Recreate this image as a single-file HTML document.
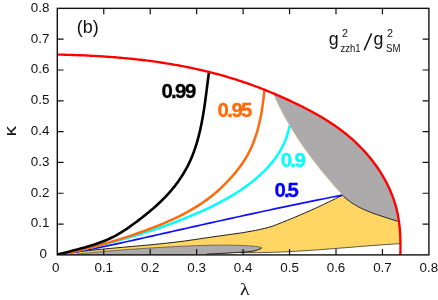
<!DOCTYPE html>
<html><head><meta charset="utf-8"><style>
html,body{margin:0;padding:0;background:#fff;}
svg{display:block;}
text{font-family:"Liberation Sans",sans-serif;}
</style></head><body>
<svg width="438" height="300" viewBox="0 0 438 300" style="will-change:transform">
<defs><filter id="ga" filterUnits="userSpaceOnUse" x="0" y="0" width="438" height="300" color-interpolation-filters="sRGB"><feColorMatrix type="identity"/></filter><clipPath id="cp"><rect x="57.3" y="8.35" width="371.60" height="246.55"/></clipPath></defs>
<rect width="438" height="300" fill="#fff"/>
<g clip-path="url(#cp)">
<path d="M57.30 254.86 L61.69 254.17 L66.08 253.50 L70.48 252.88 L74.88 252.29 L79.29 251.73 L83.70 251.19 L88.11 250.68 L92.52 250.20 L96.94 249.73 L101.36 249.29 L105.78 248.85 L110.20 248.44 L114.63 248.03 L119.05 247.63 L123.47 247.23 L127.90 246.84 L132.32 246.45 L136.75 246.06 L141.17 245.66 L145.59 245.26 L150.02 244.85 L154.44 244.42 L158.86 243.98 L163.27 243.53 L167.69 243.05 L172.10 242.56 L176.51 242.04 L180.91 241.49 L185.32 240.92 L189.71 240.31 L194.11 239.67 L198.50 239.01 L202.89 238.34 L207.29 237.68 L211.69 237.04 L216.09 236.42 L220.49 235.82 L224.89 235.22 L229.29 234.62 L233.69 234.00 L238.08 233.37 L242.47 232.69 L246.85 231.98 L251.21 231.21 L255.56 230.38 L259.90 229.47 L264.22 228.47 L268.52 227.36 L272.80 226.14 L275.25 225.13 L277.70 224.18 L280.15 223.22 L282.60 222.25 L285.04 221.27 L287.48 220.28 L289.92 219.29 L292.35 218.28 L294.78 217.27 L297.20 216.24 L299.62 215.21 L302.04 214.17 L304.45 213.12 L306.86 212.06 L309.27 210.99 L311.67 209.92 L314.06 208.83 L316.46 207.74 L318.85 206.63 L321.23 205.52 L323.61 204.40 L325.99 203.27 L328.36 202.13 L330.73 200.98 L333.09 199.83 L335.45 198.66 L337.81 197.49 L340.16 196.30 L342.51 195.11 L342.45 195.15 L343.79 196.48 L345.17 197.75 L346.59 198.98 L348.04 200.15 L349.54 201.28 L351.06 202.37 L352.62 203.41 L354.20 204.41 L355.81 205.37 L357.45 206.29 L359.10 207.18 L360.78 208.03 L362.48 208.85 L364.19 209.64 L365.92 210.39 L367.66 211.12 L369.40 211.83 L371.16 212.51 L372.92 213.17 L374.69 213.80 L376.45 214.42 L378.22 215.02 L379.98 215.61 L397.60 221.30 L397.60 221.30 L399.20 223.42 L399.42 225.26 L399.61 227.10 L399.78 228.95 L399.93 230.80 L400.06 232.66 L400.17 234.51 L400.26 236.37 L400.34 238.23 L400.39 240.09 L400.43 241.95 L399.90 243.63 L399.90 243.63 L396.64 243.84 L393.38 244.05 L390.12 244.27 L386.86 244.49 L383.59 244.72 L380.33 244.96 L377.07 245.20 L373.81 245.45 L370.55 245.70 L367.29 245.95 L364.03 246.21 L360.77 246.46 L357.51 246.72 L354.25 246.99 L350.99 247.25 L347.73 247.51 L344.47 247.77 L341.21 248.03 L337.95 248.29 L334.69 248.55 L331.43 248.80 L328.17 249.06 L324.91 249.30 L321.65 249.55 L318.39 249.79 L315.13 250.02 L311.86 250.25 L308.60 250.47 L305.34 250.68 L302.08 250.89 L298.81 251.09 L295.55 251.28 L292.29 251.46 L289.02 251.63 L285.76 251.79 L282.49 251.94 L279.23 252.08 L275.96 252.20 L272.69 252.32 L269.43 252.42 L266.16 252.50 L262.89 252.58 L259.62 252.64 L256.35 252.68 L253.08 252.71 L249.81 252.72 L246.54 252.71 L243.27 252.69 L240.00 252.65 L190 254.9 Z" fill="#ffd664" stroke="none"/>
<path d="M57.30 254.86 L61.69 254.17 L66.08 253.50 L70.48 252.88 L74.88 252.29 L79.29 251.73 L83.70 251.19 L88.11 250.68 L92.52 250.20 L96.94 249.73 L101.36 249.29 L105.78 248.85 L110.20 248.44 L114.63 248.03 L119.05 247.63 L123.47 247.23 L127.90 246.84 L132.32 246.45 L136.75 246.06 L141.17 245.66 L145.59 245.26 L150.02 244.85 L154.44 244.42 L158.86 243.98 L163.27 243.53 L167.69 243.05 L172.10 242.56 L176.51 242.04 L180.91 241.49 L185.32 240.92 L189.71 240.31 L194.11 239.67 L198.50 239.01 L202.89 238.34 L207.29 237.68 L211.69 237.04 L216.09 236.42 L220.49 235.82 L224.89 235.22 L229.29 234.62 L233.69 234.00 L238.08 233.37 L242.47 232.69 L246.85 231.98 L251.21 231.21 L255.56 230.38 L259.90 229.47 L264.22 228.47 L268.52 227.36 L272.80 226.14 L275.25 225.13 L277.70 224.18 L280.15 223.22 L282.60 222.25 L285.04 221.27 L287.48 220.28 L289.92 219.29 L292.35 218.28 L294.78 217.27 L297.20 216.24 L299.62 215.21 L302.04 214.17 L304.45 213.12 L306.86 212.06 L309.27 210.99 L311.67 209.92 L314.06 208.83 L316.46 207.74 L318.85 206.63 L321.23 205.52 L323.61 204.40 L325.99 203.27 L328.36 202.13 L330.73 200.98 L333.09 199.83 L335.45 198.66 L337.81 197.49 L340.16 196.30 L342.51 195.11 " fill="none" stroke="#111" stroke-width="0.95"/>
<path d="M399.90 243.63 L396.64 243.84 L393.38 244.05 L390.12 244.27 L386.86 244.49 L383.59 244.72 L380.33 244.96 L377.07 245.20 L373.81 245.45 L370.55 245.70 L367.29 245.95 L364.03 246.21 L360.77 246.46 L357.51 246.72 L354.25 246.99 L350.99 247.25 L347.73 247.51 L344.47 247.77 L341.21 248.03 L337.95 248.29 L334.69 248.55 L331.43 248.80 L328.17 249.06 L324.91 249.30 L321.65 249.55 L318.39 249.79 L315.13 250.02 L311.86 250.25 L308.60 250.47 L305.34 250.68 L302.08 250.89 L298.81 251.09 L295.55 251.28 L292.29 251.46 L289.02 251.63 L285.76 251.79 L282.49 251.94 L279.23 252.08 L275.96 252.20 L272.69 252.32 L269.43 252.42 L266.16 252.50 L262.89 252.58 L259.62 252.64 L256.35 252.68 L253.08 252.71 L249.81 252.72 L246.54 252.71 L243.27 252.69 L240.00 252.65 " fill="none" stroke="#151515" stroke-width="0.7"/>
<path d="M70.00 254.95 L73.24 254.57 L76.48 254.20 L79.72 253.84 L82.96 253.48 L86.20 253.14 L89.44 252.81 L92.68 252.48 L95.93 252.17 L99.17 251.86 L102.41 251.57 L105.65 251.28 L108.90 250.99 L112.14 250.72 L115.39 250.45 L118.63 250.19 L121.88 249.94 L125.13 249.70 L128.37 249.46 L131.62 249.22 L134.87 249.00 L138.12 248.78 L141.37 248.56 L144.62 248.35 L147.87 248.15 L151.12 247.95 L154.37 247.75 L157.62 247.56 L160.88 247.37 L164.13 247.19 L167.38 247.01 L170.64 246.83 L173.90 246.66 L177.15 246.49 L180.41 246.33 L183.67 246.17 L186.92 246.02 L190.18 245.88 L193.44 245.75 L196.70 245.63 L199.96 245.51 L203.22 245.42 L206.48 245.33 L209.73 245.26 L212.99 245.20 L216.25 245.16 L219.51 245.13 L222.76 245.13 L226.02 245.14 L229.28 245.17 L232.53 245.22 L235.79 245.29 L239.04 245.39 L242.29 245.51 L245.54 245.65 L248.79 245.83 L252.03 246.06 L255.25 246.38 L258.45 246.81 L261.62 247.38 L260.05 248.92 L258.38 249.66 L256.67 250.26 L254.91 250.74 L253.11 251.12 L251.29 251.40 L249.45 251.63 L247.59 251.80 L245.72 251.94 L243.86 252.07 L241.99 252.19 L240.12 252.32 L238.26 252.44 L236.40 252.56 L234.54 252.67 L232.68 252.78 L230.82 252.89 L228.96 253.00 L227.11 253.11 L225.25 253.21 L223.39 253.32 L221.54 253.42 L219.69 253.52 L217.83 253.61 L215.98 253.71 L214.13 253.80 L212.27 253.90 L210.42 253.99 L208.57 254.08 L206.71 254.17 L204.86 254.26 L203.00 254.34 L201.15 254.43 L199.29 254.52 L197.44 254.60 L195.58 254.69 L193.72 254.77 L191.86 254.86 L190.00 254.94 Z" fill="#acaaaa" stroke="none"/>
<path d="M70.00 254.95 L73.24 254.57 L76.48 254.20 L79.72 253.84 L82.96 253.48 L86.20 253.14 L89.44 252.81 L92.68 252.48 L95.93 252.17 L99.17 251.86 L102.41 251.57 L105.65 251.28 L108.90 250.99 L112.14 250.72 L115.39 250.45 L118.63 250.19 L121.88 249.94 L125.13 249.70 L128.37 249.46 L131.62 249.22 L134.87 249.00 L138.12 248.78 L141.37 248.56 L144.62 248.35 L147.87 248.15 L151.12 247.95 L154.37 247.75 L157.62 247.56 L160.88 247.37 L164.13 247.19 L167.38 247.01 L170.64 246.83 L173.90 246.66 L177.15 246.49 L180.41 246.33 L183.67 246.17 L186.92 246.02 L190.18 245.88 L193.44 245.75 L196.70 245.63 L199.96 245.51 L203.22 245.42 L206.48 245.33 L209.73 245.26 L212.99 245.20 L216.25 245.16 L219.51 245.13 L222.76 245.13 L226.02 245.14 L229.28 245.17 L232.53 245.22 L235.79 245.29 L239.04 245.39 L242.29 245.51 L245.54 245.65 L248.79 245.83 L252.03 246.06 L255.25 246.38 L258.45 246.81 L261.62 247.38 " fill="none" stroke="#333" stroke-width="0.6"/>
<path d="M261.67 248.02 L260.05 248.92 L258.38 249.66 L256.67 250.26 L254.91 250.74 L253.11 251.12 L251.29 251.40 L249.45 251.63 L247.59 251.80 L245.72 251.94 L243.86 252.07 L241.99 252.19 L240.12 252.32 L238.26 252.44 L236.40 252.56 L234.54 252.67 L232.68 252.78 L230.82 252.89 L228.96 253.00 L227.11 253.11 L225.25 253.21 L223.39 253.32 L221.54 253.42 L219.69 253.52 L217.83 253.61 L215.98 253.71 L214.13 253.80 L212.27 253.90 L210.42 253.99 L208.57 254.08 L206.71 254.17 " fill="none" stroke="#151515" stroke-width="1.0"/>
<path d="M272.81 92.89 L273.81 95.22 L274.84 97.54 L275.89 99.85 L276.96 102.15 L278.05 104.44 L279.17 106.72 L280.31 108.99 L281.46 111.24 L282.64 113.49 L283.84 115.72 L285.06 117.94 L286.29 120.16 L287.55 122.36 L288.82 124.55 L290.12 126.73 L291.43 128.90 L292.75 131.06 L294.10 133.21 L295.46 135.35 L296.84 137.48 L298.23 139.60 L299.65 141.71 L301.07 143.81 L302.51 145.90 L303.97 147.98 L305.44 150.05 L306.92 152.11 L308.42 154.16 L309.93 156.20 L311.46 158.24 L312.99 160.26 L314.54 162.27 L316.10 164.28 L317.68 166.27 L319.26 168.26 L320.85 170.24 L322.46 172.20 L324.07 174.16 L325.70 176.11 L327.33 178.06 L328.98 179.99 L330.63 181.92 L332.29 183.83 L333.96 185.74 L335.63 187.64 L337.31 189.53 L339.00 191.41 L340.70 193.29 L342.40 195.16 L342.45 195.15 L343.79 196.48 L345.17 197.75 L346.59 198.98 L348.04 200.15 L349.54 201.28 L351.06 202.37 L352.62 203.41 L354.20 204.41 L355.81 205.37 L357.45 206.29 L359.10 207.18 L360.78 208.03 L362.48 208.85 L364.19 209.64 L365.92 210.39 L367.66 211.12 L369.40 211.83 L371.16 212.51 L372.92 213.17 L374.69 213.80 L376.45 214.42 L378.22 215.02 L379.98 215.61 L397.60 221.30 L397.60 221.30 L398.69 219.75 L398.40 217.93 L398.08 216.11 L397.73 214.29 L397.35 212.49 L396.95 210.69 L396.51 208.90 L396.05 207.12 L395.55 205.35 L395.03 203.58 L394.48 201.82 L393.90 200.08 L393.30 198.34 L392.67 196.61 L392.01 194.89 L391.33 193.18 L390.62 191.48 L389.89 189.79 L389.13 188.10 L388.35 186.43 L387.54 184.77 L386.71 183.12 L385.86 181.48 L384.98 179.86 L384.08 178.24 L383.16 176.63 L382.21 175.04 L381.25 173.46 L380.26 171.89 L379.25 170.33 L378.22 168.78 L377.17 167.25 L376.10 165.73 L375.01 164.22 L373.91 162.73 L372.78 161.25 L371.63 159.78 L370.47 158.32 L369.29 156.88 L368.09 155.46 L366.88 154.04 L365.64 152.64 L364.40 151.26 L363.13 149.89 L361.85 148.54 L360.56 147.20 L359.25 145.87 L357.92 144.57 L356.58 143.27 L355.23 142.00 L353.87 140.74 L352.49 139.49 L351.10 138.26 L349.69 137.05 L348.28 135.86 L346.85 134.68 L345.41 133.52 L343.96 132.37 L342.50 131.24 L341.03 130.12 L339.54 129.02 L338.05 127.93 L336.55 126.86 L335.04 125.80 L333.52 124.76 L331.98 123.73 L330.44 122.71 L328.90 121.71 L327.34 120.71 L325.77 119.73 L324.20 118.77 L322.62 117.81 L321.03 116.87 L319.44 115.93 L317.84 115.01 L316.23 114.10 L314.61 113.19 L312.99 112.30 L311.36 111.42 L309.73 110.54 L308.09 109.68 L306.45 108.82 L304.80 107.97 L303.15 107.14 L301.50 106.30 L299.84 105.48 L298.17 104.66 L296.50 103.85 L294.83 103.05 L293.16 102.25 L291.48 101.46 L289.80 100.67 L288.12 99.90 L286.43 99.12 L284.75 98.36 L283.06 97.60 L281.36 96.85 L279.66 96.10 L277.97 95.36 L276.26 94.63 L274.56 93.90 L272.81 92.89 Z" fill="#acaaaa" stroke="none"/>
<path d="M272.81 92.89 L273.81 95.22 L274.84 97.54 L275.89 99.85 L276.96 102.15 L278.05 104.44 L279.17 106.72 L280.31 108.99 L281.46 111.24 L282.64 113.49 L283.84 115.72 L285.06 117.94 L286.29 120.16 L287.55 122.36 L288.82 124.55 L290.12 126.73 L291.43 128.90 L292.75 131.06 L294.10 133.21 L295.46 135.35 L296.84 137.48 L298.23 139.60 L299.65 141.71 L301.07 143.81 L302.51 145.90 L303.97 147.98 L305.44 150.05 L306.92 152.11 L308.42 154.16 L309.93 156.20 L311.46 158.24 L312.99 160.26 L314.54 162.27 L316.10 164.28 L317.68 166.27 L319.26 168.26 L320.85 170.24 L322.46 172.20 L324.07 174.16 L325.70 176.11 L327.33 178.06 L328.98 179.99 L330.63 181.92 L332.29 183.83 L333.96 185.74 L335.63 187.64 L337.31 189.53 L339.00 191.41 L340.70 193.29 L342.40 195.16 " fill="none" stroke="#e6dfb0" stroke-width="0.8"/>
<path d="M342.45 195.15 L343.79 196.48 L345.17 197.75 L346.59 198.98 L348.04 200.15 L349.54 201.28 L351.06 202.37 L352.62 203.41 L354.20 204.41 L355.81 205.37 L357.45 206.29 L359.10 207.18 L360.78 208.03 L362.48 208.85 L364.19 209.64 L365.92 210.39 L367.66 211.12 L369.40 211.83 L371.16 212.51 L372.92 213.17 L374.69 213.80 L376.45 214.42 L378.22 215.02 L379.98 215.61 L397.60 221.30 " fill="none" stroke="#111" stroke-width="0.9"/>
<path d="M57.38 255.19 L62.23 254.38 L67.09 253.55 L71.93 252.69 L76.78 251.81 L81.62 250.91 L86.46 249.99 L91.29 249.05 L96.13 248.09 L100.95 247.12 L105.78 246.12 L110.61 245.12 L115.43 244.10 L120.25 243.06 L125.07 242.02 L129.89 240.97 L134.70 239.91 L139.52 238.84 L144.33 237.76 L149.15 236.68 L153.96 235.59 L158.78 234.51 L163.59 233.42 L168.41 232.33 L173.22 231.24 L178.04 230.15 L182.86 229.07 L187.68 227.98 L192.50 226.90 L197.32 225.82 L202.14 224.75 L206.96 223.67 L211.78 222.60 L216.60 221.53 L221.43 220.46 L226.25 219.40 L231.08 218.34 L235.90 217.28 L240.73 216.22 L245.56 215.17 L250.39 214.12 L255.22 213.08 L260.05 212.04 L264.88 211.01 L269.71 209.97 L274.54 208.95 L279.38 207.93 L284.21 206.91 L289.05 205.90 L293.88 204.89 L298.72 203.89 L303.56 202.89 L308.40 201.90 L313.24 200.91 L318.08 199.93 L322.92 198.96 L327.76 197.99 L332.61 197.03 L337.45 196.07 L342.30 195.12 " fill="none" stroke="#1010ff" stroke-width="1.7"/>
<path d="M289.53 125.82 L289.06 128.23 L288.51 130.60 L287.89 132.92 L287.20 135.21 L286.44 137.46 L285.62 139.67 L284.73 141.84 L283.77 143.98 L282.76 146.08 L281.68 148.14 L280.56 150.17 L279.37 152.16 L278.14 154.12 L276.85 156.04 L275.51 157.93 L274.13 159.79 L272.71 161.61 L271.24 163.40 L269.74 165.16 L268.19 166.89 L266.61 168.58 L265.00 170.25 L263.36 171.89 L261.68 173.50 L259.98 175.08 L258.25 176.63 L256.50 178.15 L254.73 179.65 L252.93 181.12 L251.10 182.56 L249.26 183.98 L247.39 185.37 L245.51 186.74 L243.60 188.09 L241.67 189.41 L239.73 190.71 L237.77 191.99 L235.79 193.24 L233.80 194.48 L231.79 195.69 L229.76 196.88 L227.73 198.06 L225.67 199.21 L223.61 200.35 L221.54 201.47 L219.45 202.57 L217.36 203.65 L215.25 204.72 L213.14 205.77 L211.02 206.80 L208.89 207.82 L206.76 208.83 L204.62 209.82 L202.47 210.80 L200.32 211.77 L198.17 212.72 L196.02 213.66 L193.86 214.60 L191.70 215.51 L189.53 216.42 L187.37 217.32 L185.19 218.20 L183.02 219.08 L180.85 219.94 L178.67 220.79 L176.48 221.63 L174.30 222.46 L172.11 223.28 L169.92 224.09 L167.73 224.89 L165.53 225.69 L163.33 226.47 L161.13 227.24 L158.93 228.00 L156.72 228.75 L154.51 229.50 L152.30 230.24 L150.08 230.96 L147.87 231.68 L145.65 232.39 L143.42 233.09 L141.20 233.79 L138.97 234.47 L136.74 235.15 L134.51 235.82 L132.27 236.49 L130.04 237.14 L127.80 237.79 L125.56 238.43 L123.31 239.07 L121.06 239.70 L118.82 240.32 L116.56 240.94 L114.31 241.55 L112.05 242.15 L109.80 242.75 L107.54 243.34 L105.27 243.93 L103.01 244.51 L100.74 245.09 L98.47 245.66 L96.20 246.23 L93.93 246.79 L91.66 247.34 L89.38 247.90 L87.10 248.45 L84.82 248.99 L82.54 249.53 L80.25 250.07 L77.97 250.60 L75.68 251.13 L73.39 251.66 L71.10 252.18 L68.80 252.71 L66.51 253.22 L64.21 253.74 L61.91 254.25 L59.61 254.76 L57.31 255.27 " fill="none" stroke="#00ffff" stroke-width="2.5"/>
<path d="M264.38 89.96 L264.16 92.37 L263.91 94.79 L263.65 97.21 L263.37 99.63 L263.07 102.05 L262.74 104.47 L262.40 106.89 L262.03 109.30 L261.63 111.72 L261.21 114.13 L260.76 116.53 L260.27 118.92 L259.76 121.31 L259.21 123.69 L258.63 126.05 L258.02 128.40 L257.37 130.74 L256.67 133.07 L255.94 135.38 L255.17 137.67 L254.36 139.95 L253.50 142.21 L252.60 144.44 L251.65 146.66 L250.66 148.85 L249.61 151.01 L248.52 153.16 L247.37 155.27 L246.17 157.36 L244.92 159.42 L243.62 161.46 L242.28 163.47 L240.89 165.46 L239.46 167.42 L237.99 169.35 L236.48 171.26 L234.94 173.15 L233.36 175.01 L231.75 176.85 L230.12 178.67 L228.45 180.47 L226.76 182.24 L225.05 183.99 L223.30 185.71 L221.54 187.41 L219.74 189.08 L217.93 190.71 L216.09 192.32 L214.23 193.90 L212.34 195.44 L210.44 196.95 L208.51 198.43 L206.56 199.87 L204.60 201.28 L202.61 202.66 L200.61 204.01 L198.58 205.33 L196.54 206.62 L194.49 207.88 L192.41 209.12 L190.33 210.33 L188.22 211.52 L186.10 212.68 L183.97 213.81 L181.82 214.93 L179.67 216.02 L177.50 217.09 L175.31 218.13 L173.12 219.16 L170.92 220.17 L168.70 221.16 L166.48 222.14 L164.25 223.09 L162.01 224.03 L159.77 224.96 L157.51 225.87 L155.25 226.77 L152.99 227.65 L150.72 228.53 L148.44 229.39 L146.16 230.24 L143.88 231.08 L141.59 231.91 L139.30 232.73 L137.01 233.54 L134.71 234.33 L132.40 235.12 L130.10 235.90 L127.79 236.66 L125.48 237.42 L123.16 238.16 L120.84 238.90 L118.52 239.62 L116.19 240.34 L113.87 241.04 L111.53 241.73 L109.20 242.42 L106.86 243.09 L104.53 243.76 L102.18 244.41 L99.84 245.06 L97.50 245.69 L95.15 246.32 L92.80 246.93 L90.45 247.54 L88.09 248.14 L85.74 248.72 L83.38 249.30 L81.02 249.87 L78.66 250.43 L76.30 250.98 L73.94 251.52 L71.58 252.05 L69.21 252.58 L66.85 253.09 L64.48 253.60 L62.12 254.09 L59.75 254.58 L57.38 255.06 " fill="none" stroke="#ff6a0a" stroke-width="2.5"/>
<path d="M208.93 72.43 L208.65 74.52 L208.37 76.62 L208.10 78.73 L207.83 80.85 L207.56 82.98 L207.29 85.11 L207.02 87.26 L206.75 89.41 L206.47 91.57 L206.19 93.73 L205.91 95.90 L205.62 98.07 L205.33 100.24 L205.03 102.42 L204.72 104.60 L204.40 106.78 L204.07 108.96 L203.73 111.14 L203.37 113.32 L203.01 115.50 L202.63 117.68 L202.23 119.85 L201.82 122.02 L201.40 124.19 L200.95 126.35 L200.49 128.51 L200.01 130.66 L199.50 132.80 L198.98 134.93 L198.43 137.06 L197.86 139.18 L197.27 141.28 L196.65 143.38 L196.00 145.47 L195.33 147.54 L194.63 149.60 L193.90 151.65 L193.14 153.69 L192.35 155.71 L191.52 157.71 L190.67 159.70 L189.78 161.67 L188.85 163.63 L187.90 165.56 L186.90 167.48 L185.87 169.38 L184.80 171.26 L183.70 173.12 L182.57 174.96 L181.41 176.79 L180.21 178.59 L178.98 180.38 L177.72 182.14 L176.43 183.89 L175.12 185.62 L173.77 187.32 L172.40 189.01 L171.00 190.68 L169.57 192.32 L168.12 193.95 L166.65 195.56 L165.15 197.14 L163.63 198.71 L162.08 200.25 L160.52 201.78 L158.93 203.28 L157.33 204.77 L155.71 206.23 L154.07 207.69 L152.41 209.12 L150.74 210.54 L149.06 211.94 L147.36 213.33 L145.65 214.71 L143.94 216.07 L142.21 217.42 L140.48 218.76 L138.73 220.09 L136.99 221.42 L135.23 222.73 L133.47 224.03 L131.71 225.32 L129.93 226.59 L128.15 227.84 L126.35 229.07 L124.54 230.27 L122.71 231.45 L120.87 232.59 L119.01 233.71 L117.13 234.78 L115.24 235.82 L113.32 236.82 L111.38 237.78 L109.42 238.70 L107.44 239.59 L105.44 240.44 L103.43 241.26 L101.40 242.04 L99.36 242.80 L97.30 243.53 L95.24 244.23 L93.16 244.92 L91.07 245.58 L88.97 246.21 L86.87 246.84 L84.76 247.44 L82.65 248.03 L80.53 248.61 L78.41 249.18 L76.28 249.74 L74.16 250.29 L72.03 250.84 L69.91 251.39 L67.79 251.93 L65.68 252.48 L63.57 253.02 L61.47 253.57 L59.37 254.13 L57.28 254.69 " fill="none" stroke="#000" stroke-width="2.6"/>
<path d="M57.31 54.59 L59.15 54.62 L61.00 54.66 L62.84 54.70 L64.68 54.75 L66.53 54.80 L68.38 54.85 L70.22 54.90 L72.07 54.96 L73.92 55.02 L75.77 55.08 L77.61 55.15 L79.46 55.22 L81.31 55.29 L83.16 55.37 L85.01 55.45 L86.86 55.53 L88.71 55.62 L90.56 55.71 L92.41 55.81 L94.26 55.91 L96.11 56.01 L97.97 56.12 L99.82 56.23 L101.67 56.35 L103.52 56.46 L105.37 56.59 L107.22 56.72 L109.07 56.85 L110.92 56.98 L112.77 57.12 L114.62 57.27 L116.47 57.42 L118.32 57.57 L120.17 57.73 L122.02 57.89 L123.87 58.06 L125.71 58.23 L127.56 58.41 L129.41 58.59 L131.25 58.78 L133.10 58.97 L134.95 59.17 L136.79 59.37 L138.63 59.57 L140.48 59.79 L142.32 60.00 L144.16 60.23 L146.00 60.45 L147.84 60.69 L149.68 60.92 L151.52 61.17 L153.36 61.42 L155.20 61.67 L157.03 61.93 L158.87 62.20 L160.70 62.47 L162.54 62.75 L164.37 63.03 L166.20 63.32 L168.03 63.61 L169.86 63.92 L171.68 64.22 L173.51 64.54 L175.34 64.85 L177.16 65.18 L178.98 65.51 L180.80 65.85 L182.62 66.19 L184.44 66.54 L186.26 66.90 L188.07 67.26 L189.88 67.63 L191.70 68.01 L193.51 68.39 L195.32 68.78 L197.12 69.18 L198.93 69.58 L200.73 69.99 L202.53 70.41 L204.33 70.84 L206.13 71.27 L207.93 71.71 L209.72 72.15 L211.52 72.60 L213.31 73.06 L215.10 73.53 L216.88 74.00 L218.67 74.49 L220.45 74.97 L222.23 75.47 L224.01 75.98 L225.79 76.49 L227.56 77.01 L229.33 77.53 L231.10 78.07 L232.87 78.61 L234.64 79.16 L236.40 79.72 L238.16 80.29 L239.92 80.86 L241.67 81.44 L243.43 82.03 L245.18 82.63 L246.93 83.23 L248.67 83.84 L250.42 84.46 L252.16 85.09 L253.90 85.73 L255.63 86.37 L257.37 87.02 L259.10 87.67 L260.83 88.34 L262.55 89.01 L264.27 89.69 L266.00 90.37 L267.71 91.06 L269.43 91.76 L271.14 92.47 L272.85 93.18 L274.56 93.90 L276.26 94.63 L277.97 95.36 L279.66 96.10 L281.36 96.85 L283.06 97.60 L284.75 98.36 L286.43 99.12 L288.12 99.90 L289.80 100.67 L291.48 101.46 L293.16 102.25 L294.83 103.05 L296.50 103.85 L298.17 104.66 L299.84 105.48 L301.50 106.30 L303.15 107.14 L304.80 107.97 L306.45 108.82 L308.09 109.68 L309.73 110.54 L311.36 111.42 L312.99 112.30 L314.61 113.19 L316.23 114.10 L317.84 115.01 L319.44 115.93 L321.03 116.87 L322.62 117.81 L324.20 118.77 L325.77 119.73 L327.34 120.71 L328.90 121.71 L330.44 122.71 L331.98 123.73 L333.52 124.76 L335.04 125.80 L336.55 126.86 L338.05 127.93 L339.54 129.02 L341.03 130.12 L342.50 131.24 L343.96 132.37 L345.41 133.52 L346.85 134.68 L348.28 135.86 L349.69 137.05 L351.10 138.26 L352.49 139.49 L353.87 140.74 L355.23 142.00 L356.58 143.27 L357.92 144.57 L359.25 145.87 L360.56 147.20 L361.85 148.54 L363.13 149.89 L364.40 151.26 L365.64 152.64 L366.88 154.04 L368.09 155.46 L369.29 156.88 L370.47 158.32 L371.63 159.78 L372.78 161.25 L373.91 162.73 L375.01 164.22 L376.10 165.73 L377.17 167.25 L378.22 168.78 L379.25 170.33 L380.26 171.89 L381.25 173.46 L382.21 175.04 L383.16 176.63 L384.08 178.24 L384.98 179.86 L385.86 181.48 L386.71 183.12 L387.54 184.77 L388.35 186.43 L389.13 188.10 L389.89 189.79 L390.62 191.48 L391.33 193.18 L392.01 194.89 L392.67 196.61 L393.30 198.34 L393.90 200.08 L394.48 201.82 L395.03 203.58 L395.55 205.35 L396.05 207.12 L396.51 208.90 L396.95 210.69 L397.35 212.49 L397.73 214.29 L398.08 216.11 L398.40 217.93 L398.69 219.75 L398.96 221.58 L399.20 223.42 L399.42 225.26 L399.61 227.10 L399.78 228.95 L399.93 230.80 L400.06 232.66 L400.17 234.51 L400.26 236.37 L400.34 238.23 L400.39 240.09 L400.43 241.95 L400.46 243.80 L400.47 245.66 L400.47 247.52 L400.46 249.37 L400.43 251.22 L400.40 253.06 L400.36 254.91 " fill="none" stroke="#ff0000" stroke-width="2.35"/>
</g>
<g stroke="#111" stroke-width="1.2" fill="none"><path d="M103.75 254.90v-5.8M103.75 8.35v5.8"/><path d="M57.30 224.08h6.3M428.90 224.08h-6.3"/><path d="M150.20 254.90v-5.8M150.20 8.35v5.8"/><path d="M57.30 193.26h6.3M428.90 193.26h-6.3"/><path d="M196.65 254.90v-5.8M196.65 8.35v5.8"/><path d="M57.30 162.44h6.3M428.90 162.44h-6.3"/><path d="M243.10 254.90v-5.8M243.10 8.35v5.8"/><path d="M57.30 131.62h6.3M428.90 131.62h-6.3"/><path d="M289.55 254.90v-5.8M289.55 8.35v5.8"/><path d="M57.30 100.81h6.3M428.90 100.81h-6.3"/><path d="M336.00 254.90v-5.8M336.00 8.35v5.8"/><path d="M57.30 69.99h6.3M428.90 69.99h-6.3"/><path d="M382.45 254.90v-5.8M382.45 8.35v5.8"/><path d="M57.30 39.17h6.3M428.90 39.17h-6.3"/></g>
<rect x="57.3" y="8.35" width="371.60" height="246.55" fill="none" stroke="#111" stroke-width="1.4"/>
<g filter="url(#ga)">
<g font-size="13.4" fill="#111"><text x="55.80" y="272.4" text-anchor="middle">0</text><text x="103.75" y="272.4" text-anchor="middle">0.1</text><text x="150.20" y="272.4" text-anchor="middle">0.2</text><text x="196.65" y="272.4" text-anchor="middle">0.3</text><text x="243.10" y="272.4" text-anchor="middle">0.4</text><text x="289.55" y="272.4" text-anchor="middle">0.5</text><text x="336.00" y="272.4" text-anchor="middle">0.6</text><text x="382.45" y="272.4" text-anchor="middle">0.7</text><text x="428.90" y="272.4" text-anchor="middle">0.8</text><text x="46.90" y="258.30" text-anchor="end">0</text><text x="49.40" y="227.48" text-anchor="end">0.1</text><text x="49.40" y="196.66" text-anchor="end">0.2</text><text x="49.40" y="165.84" text-anchor="end">0.3</text><text x="49.40" y="135.03" text-anchor="end">0.4</text><text x="49.40" y="104.21" text-anchor="end">0.5</text><text x="49.40" y="73.39" text-anchor="end">0.6</text><text x="49.40" y="42.57" text-anchor="end">0.7</text><text x="49.40" y="11.75" text-anchor="end">0.8</text></g>
<text x="76.7" y="33.1" font-size="18" fill="#111">(b)</text>
<text transform="translate(16,131.2) rotate(-90) scale(1.22,1)" font-size="17" fill="#111" text-anchor="middle">κ</text>
<text transform="translate(244.8,294.7) scale(1.2,1)" font-size="16.5" fill="#111" text-anchor="middle" style="font-family:'Liberation Serif',serif">λ</text>
<g font-weight="bold" font-size="20.4" stroke-width="0.3" stroke-linejoin="round">
<text x="161.4 171 174.9 184.9" y="98.2" fill="#000" stroke="#000">0.99</text>
<text x="217.6 227.3 231.5 241.1" y="117.2" fill="#ff6a0a" stroke="#ff6a0a">0.95</text>
<text x="280.8 290.3 294.5" y="167.2" fill="#00ffff" stroke="#00ffff">0.9</text>
<text x="274.6 284.1 287.4" y="197" fill="#0000ff" stroke="#0000ff">0.5</text>
</g>
<g fill="#111">
<text x="328.8" y="45.2" font-size="18" textLength="9.9" lengthAdjust="spacingAndGlyphs">g</text>
<text x="342.0" y="36.6" font-size="11" textLength="6.0" lengthAdjust="spacingAndGlyphs">2</text>
<text x="340.4" y="52" font-size="10" textLength="20.2" lengthAdjust="spacingAndGlyphs">zzh1</text>
<path d="M364.2 50.2 L371.6 33.4" stroke="#111" stroke-width="1.5" fill="none"/>
<text x="373.6" y="45.2" font-size="18" textLength="9.9" lengthAdjust="spacingAndGlyphs">g</text>
<text x="387.0" y="36.6" font-size="11" textLength="6.0" lengthAdjust="spacingAndGlyphs">2</text>
<text x="386" y="52" font-size="10" textLength="14.4" lengthAdjust="spacingAndGlyphs">SM</text>
</g>
</g>
</svg>
</body></html>
